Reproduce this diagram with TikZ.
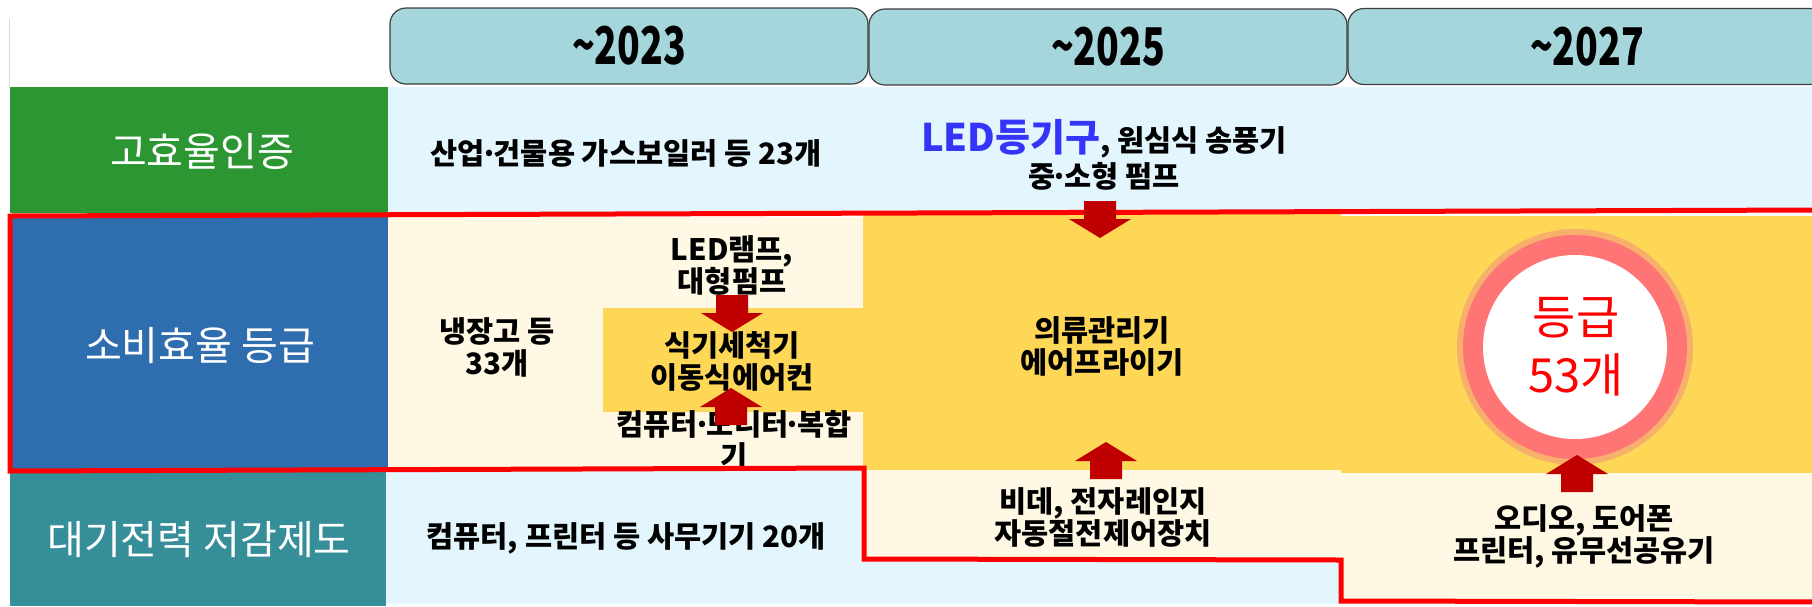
\documentclass[tikz,border=0pt]{standalone}
\usepackage{fontspec}
\setmainfont{Noto Sans CJK KR}
\definecolor{hdrfill}{HTML}{A5D6DC}
\definecolor{hdrline}{HTML}{3F3F3F}
\definecolor{lgreen}{HTML}{2C9632}
\definecolor{lblue}{HTML}{2F6EAE}
\definecolor{lteal}{HTML}{368E98}
\definecolor{paleblue}{HTML}{E3F5FD}
\definecolor{cream}{HTML}{FFF8E4}
\definecolor{gold}{HTML}{FED757}
\definecolor{darkred}{HTML}{C00000}
\definecolor{ledblue}{HTML}{3535FA}
\definecolor{halo}{HTML}{F6B06C}
\definecolor{pinkring}{HTML}{FF7474}
\newcommand\mdot{\makebox[0.3em][c]{·}}
\newcommand\yr[1]{\scalebox{0.72}[1]{#1}}
\tikzset{
  hdr/.style={draw=hdrline, fill=hdrfill, rounded corners=16pt, line width=1.2pt,
    minimum width=478pt, minimum height=76pt, inner sep=0pt,
    font=\fontsize{52}{52}\selectfont\bfseries},
  lbl/.style={text=white, font=\fontsize{40}{46}\selectfont, inner sep=0pt},
  txt/.style={font=\fontsize{29.5}{32}\selectfont\bfseries, align=center, inner sep=0pt},
  redline/.style={draw=red, line width=5pt, line join=miter},
  blockarrow/.pic={\fill[darkred] (0,0) -- (31,19) -- (16,19) -- (16,37) -- (-16,37) -- (-16,19) -- (-31,19) -- cycle;}
}
\begin{document}
\begin{tikzpicture}[x=1pt,y=-1pt]
\useasboundingbox (0,0) rectangle (1812,606);
\clip (0,0) rectangle (1812,606);
\fill[white] (0,0) rectangle (1812,606);
% faint left edge
\draw[black!15, line width=0.8pt] (9,19) -- (9,87);
% header boxes
\node[hdr] (h1) at (629,46) {\yr{\textasciitilde2023}};
\node[hdr] (h2) at (1108,47) {\yr{\textasciitilde2025}};
\node[hdr] (h3) at (1587,46.5) {\yr{\textasciitilde2027}};
% row labels
\fill[lgreen] (10,87) rectangle (388,213);
\fill[lblue] (10,217) rectangle (388,470);
\fill[lteal] (10,472) rectangle (386,606);
% row 1 background
\fill[paleblue] (388,87) rectangle (1812,213);
% row 2 backgrounds
\fill[cream] (388,217) rectangle (863,469);
\fill[gold] (603,308) rectangle (863,412);
\fill[gold] (863,214) rectangle (1341,470);
\fill[gold] (1341,216) rectangle (1812,473);
% lower cream and row 3
\fill[cream] (863,470) rectangle (1341,560);
\fill[cream] (1341,473) rectangle (1812,602);
\fill[paleblue] (386,469) rectangle (863,604);
\fill[paleblue] (863,560) rectangle (1341,604);
% circle
\fill[halo] (1575,347) circle (118);
\fill[pinkring] (1575,347) circle (112);
\fill[white] (1575,347) circle (92);
% labels
\node[lbl] (l1) at (202,151) {고효율인증};
\node[lbl] (l2) at (200,346) {소비효율 등급};
\node[lbl] (l3) at (199,540) {대기전력 저감제도};
% texts
\node[txt] (t1) at (626,153) {산업\mdot 건물용 가스보일러 등 23개};
\node[txt, font=\fontsize{29.5}{36}\selectfont\bfseries] (t2) at (1104,155)
  {{\fontsize{38}{38}\selectfont\color{ledblue}LED등기구}, 원심식 송풍기\\중\mdot 소형 펌프};
\node[txt] (t3) at (497,347) {냉장고 등\\33개};
\node[txt] (t4) at (732,265) {LED램프,\\대형펌프};
\node[txt] (t5) at (732,361) {식기세척기\\이동식에어컨};
\node[txt] (t6) at (734,440) {컴퓨터\mdot 모니터\mdot 복합\\기};
\node[txt] (t7) at (1102,346) {의류관리기\\에어프라이기};
\node[txt] (t8) at (1103,517) {비데, 전자레인지\\자동절전제어장치};
\node[txt] (t9) at (626,538) {컴퓨터, 프린터 등 사무기기 20개};
\node[txt] (t10) at (1584,536) {오디오, 도어폰\\프린터, 유무선공유기};
\node[align=center, text=red, inner sep=0pt, font=\fontsize{47}{58}\selectfont] (t11) at (1576,347) {등급\\53개};
% red boundary
\path[redline] (1820,210) -- (10,216) -- (10,471) -- (864,468) -- (864,559) -- (1341,560) -- (1341,601) -- (1820,602);
% block arrows
\pic[rotate=180] (a1) at (732,332) {blockarrow};
\pic (a2) at (731,388) {blockarrow};
\pic[rotate=180] (a3) at (1100,238) {blockarrow};
\pic (a4) at (1106,442) {blockarrow};
\pic (a5) at (1577,455) {blockarrow};
\end{tikzpicture}
\end{document}
